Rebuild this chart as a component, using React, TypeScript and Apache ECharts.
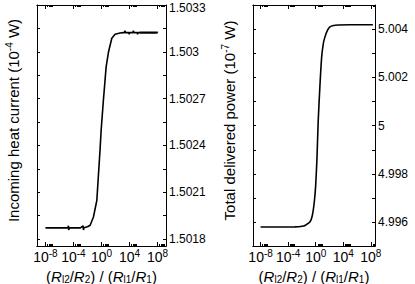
import React, { useEffect, useRef } from "react";
import * as echarts from "echarts";

// ---- data (x = log10 of (Rl2/R2)/(Rl1/R1)) ----
const LEFT_X = [
  -8, -6, -4.8, -4.72, -4.68, -4.6, -3.0, -2.62, -2.58, -2.5, -2.0, -1.62, -1.15, -0.665, -0.44, -0.2,
  -0.05, 0.27, 0.66, 0.99, 1.47, 1.94, 2.65, 3.1, 3.3, 3.35, 3.4, 3.9, 3.95, 4.0, 4.5, 4.55, 4.6, 5.1,
  5.15, 5.2, 5.5, 5.55, 5.6, 5.65, 5.7, 5.75, 5.8, 5.85, 5.9, 5.95, 6.0, 6.05, 6.1, 6.15, 6.2, 6.25,
  6.3, 6.35, 6.4, 6.45, 6.5, 6.55, 6.6, 6.65, 6.7, 6.75, 6.8, 6.85, 6.9, 6.95, 7.0, 7.05, 7.1, 7.15,
  7.2, 7.25, 7.3, 7.35, 7.4, 7.45, 7.5, 7.55, 7.6, 7.65, 7.7, 7.75, 7.8, 7.85, 7.9, 7.95, 8.0,
];
const LEFT_Y = [
  1.501871, 1.501871, 1.501871, 1.501885, 1.501858, 1.501871, 1.501871, 1.501884, 1.501858, 1.501872,
  1.501878, 1.501888, 1.501941, 1.502048, 1.502208, 1.502377, 1.502497, 1.502689, 1.502903, 1.502997,
  1.503087, 1.503112, 1.50312, 1.503123, 1.503123, 1.503136, 1.503123, 1.503123, 1.503112, 1.503123,
  1.503123, 1.503135, 1.503123, 1.503123, 1.503112, 1.503123, 1.503123, 1.503129, 1.503117, 1.503128,
  1.503118, 1.503129, 1.503117, 1.503128, 1.503118, 1.503129, 1.503117, 1.503128, 1.503118, 1.503129,
  1.503117, 1.503128, 1.503118, 1.503129, 1.503117, 1.503128, 1.503118, 1.503129, 1.503117, 1.503128,
  1.503118, 1.503129, 1.503117, 1.503128, 1.503118, 1.503129, 1.503117, 1.503128, 1.503118, 1.503129,
  1.503117, 1.503128, 1.503118, 1.503129, 1.503117, 1.503128, 1.503118, 1.503129, 1.503117, 1.503128,
  1.503118, 1.503129, 1.503117, 1.503128, 1.503118, 1.503128, 1.503123,
];
const RIGHT_X = [
  -8, -6, -4, -3, -2.5, -2, -1.56, -0.84, -0.51, -0.22, -0.013, 0.175, 0.36, 0.61, 0.86, 1.1, 1.33,
  1.7, 2.06, 2.6, 3.26, 5, 8.3,
];
const RIGHT_Y = [
  4.995805, 4.995805, 4.995806, 4.99581, 4.995818, 4.995835, 4.995872, 4.996013, 4.996262, 4.99681,
  4.9975, 4.9986, 5.0002, 5.00165, 5.00284, 5.0034, 5.00367, 5.00395, 5.00409, 5.00415, 5.00417,
  5.00418, 5.00418,
];

const X_MAJORS = [-8, -4, 0, 4, 8];
const LEFT_Y_LABELS = [1.5018, 1.5021, 1.5024, 1.5027, 1.503, 1.5033];
const LEFT_Y_TICKS = [
  1.5018, 1.50195, 1.5021, 1.50225, 1.5024, 1.50255, 1.5027, 1.50285, 1.503, 1.50315, 1.5033,
];
const RIGHT_Y_LABELS = [4.996, 4.998, 5, 5.002, 5.004];
const RIGHT_Y_TICKS = [
  4.995, 4.996, 4.997, 4.998, 4.999, 5, 5.001, 5.002, 5.003, 5.004, 5.005,
];

const LEFT_TITLE = "Incoming heat current (10";
const LEFT_TITLE_EXP = "-4";
const RIGHT_TITLE = "Total delivered power (10";
const RIGHT_TITLE_EXP = "-7";

const FONT = "Liberation Sans, Arial, Helvetica, sans-serif";

export default function App() {
  const ref = useRef<HTMLDivElement>(null);
  useEffect(() => {
    if (!ref.current) return;
    const chart = echarts.init(ref.current, null, { renderer: "svg" });
    const black = "#000";

    const tickRich = {
      b: { fontSize: 14, lineHeight: 14, fontFamily: FONT, color: black, padding: [4, 0, 0, 0] },
      p: { fontSize: 10, lineHeight: 10, fontFamily: FONT, color: black, verticalAlign: "top" },
    };
    const xNameRich = {
      n: { fontSize: 15, lineHeight: 14, fontFamily: FONT, color: black, padding: [0, 0, 3, 0] },
      r: { fontSize: 15, lineHeight: 14, fontFamily: FONT, color: black, fontStyle: "italic", padding: [0, 0, 3, 0] },
      s: { fontSize: 10, lineHeight: 9, fontFamily: FONT, color: black, verticalAlign: "bottom" },
    };
    const yNameRich = {
      t: { fontSize: 15, lineHeight: 15, fontFamily: FONT, color: black, padding: [4, 0, 0, 0] },
      p: { fontSize: 10, lineHeight: 10, fontFamily: FONT, color: black, verticalAlign: "top" },
    };
    const yLabelRich = {
      v: { fontSize: 12, lineHeight: 12, fontFamily: FONT, color: black },
      top: { fontSize: 12, lineHeight: 12, fontFamily: FONT, color: black, padding: [5, 0, 0, 0] },
    };
    const xName =
      "{n|(}{r|R}{s|l2}{n|/}{r|R}{s|2}{n|) / (}{r|R}{s|l1}{n|/}{r|R}{s|1}{n|)}";

    const fmtWith = (maxV: number) => (v: number) => {
      const s = String(parseFloat(Number(v).toFixed(4)));
      return Math.abs(v - maxV) < 1e-9 ? `{top|${s}}` : `{v|${s}}`;
    };

    const xAxes = (g: number, min: number, max: number) => {
      const minors: number[] = [];
      X_MAJORS.forEach((n) => {
        for (let k = 2; k <= 9; k++) {
          const v = n + Math.log10(k);
          if (v > min && v < max) minors.push(v);
        }
      });
      const base = {
        type: "value",
        gridIndex: g,
        min,
        max,
        splitLine: { show: false },
        axisLine: { show: true, onZero: false, lineStyle: { color: black, width: 1 } },
      };
      return [
        {
          ...base,
          position: "bottom",
          axisTick: { show: true, inside: true, length: 4, customValues: X_MAJORS, lineStyle: { color: black } },
          axisLabel: {
            show: true,
            customValues: X_MAJORS,
            margin: 2,
            formatter: (v: number) => `{b|10}{p|${Math.round(v)}}`,
            rich: tickRich,
          },
          name: xName,
          nameLocation: "middle",
          nameGap: 17,
          nameTextStyle: { rich: xNameRich },
        },
        {
          ...base,
          position: "bottom",
          axisTick: { show: true, inside: true, length: 2, customValues: minors, lineStyle: { color: black } },
          axisLabel: { show: false },
        },
        {
          ...base,
          position: "top",
          axisTick: { show: true, inside: true, length: 4, customValues: X_MAJORS, lineStyle: { color: black } },
          axisLabel: { show: false },
        },
        {
          ...base,
          position: "top",
          axisTick: { show: true, inside: true, length: 2, customValues: minors, lineStyle: { color: black } },
          axisLabel: { show: false },
        },
      ];
    };

    const yAxes = (
      g: number,
      min: number,
      max: number,
      ticks: number[],
      labels: number[],
      title: string,
      exp: string,
      gap: number
    ) => {
      const base = {
        type: "value",
        gridIndex: g,
        min,
        max,
        splitLine: { show: false },
        axisLine: { show: true, onZero: false, lineStyle: { color: black, width: 1 } },
        axisTick: { show: true, inside: true, length: 3, customValues: ticks, lineStyle: { color: black } },
      };
      return [
        {
          ...base,
          position: "left",
          axisLabel: { show: false },
          name: `{t|${title}}{p|${exp}}{t| W)}`,
          nameLocation: "middle",
          nameRotate: 90,
          nameGap: gap,
          nameTextStyle: { rich: yNameRich, padding: [0, 0, 0, 10] },
        },
        {
          ...base,
          position: "right",
          axisLabel: {
            show: true,
            customValues: labels,
            showMaxLabel: true,
            showMinLabel: true,
            margin: 3,
            formatter: fmtWith(max),
            rich: yLabelRich,
          },
        },
      ];
    };

    chart.setOption({
      animation: false,
      backgroundColor: "#fff",
      grid: [
        { left: 37, top: 5, width: 129, height: 241, outerBoundsMode: "none", containLabel: false },
        { left: 253, top: 5, width: 122, height: 241, outerBoundsMode: "none", containLabel: false },
      ],
      xAxis: [...xAxes(0, -9.2, 9.2), ...xAxes(1, -9.1, 8.6)],
      yAxis: [
        ...yAxes(0, 1.501755, 1.5033, LEFT_Y_TICKS, LEFT_Y_LABELS, LEFT_TITLE, LEFT_TITLE_EXP, 18),
        ...yAxes(1, 4.99502, 5.005, RIGHT_Y_TICKS, RIGHT_Y_LABELS, RIGHT_TITLE, RIGHT_TITLE_EXP, 18),
      ],
      series: [
        {
          type: "line",
          xAxisIndex: 0,
          yAxisIndex: 1,
          data: LEFT_X.map((x, i) => [x, LEFT_Y[i]]),
          showSymbol: false,
          symbol: "none",
          lineStyle: { color: black, width: 1.6 },
        },
        {
          type: "line",
          xAxisIndex: 4,
          yAxisIndex: 3,
          data: RIGHT_X.map((x, i) => [x, RIGHT_Y[i]]),
          showSymbol: false,
          symbol: "none",
          smooth: 0.2,
          lineStyle: { color: black, width: 1.6 },
        },
      ],
    });
    return () => chart.dispose();
  }, []);
  return (
    <div
      ref={ref}
      style={{ position: "fixed", left: 0, top: 0, width: 415, height: 284, background: "#fff" }}
    />
  );
}
